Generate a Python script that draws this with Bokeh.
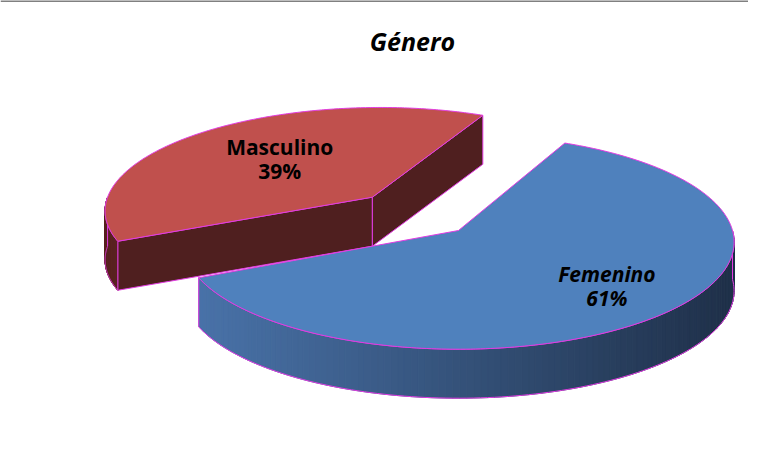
import numpy as np
from bokeh.plotting import figure
from bokeh.models import Range1d, Span
from bokeh.core.properties import value
from bokeh.embed import file_html
from bokeh.resources import INLINE

# ---------------- data ----------------
title_text = "Género"
categories = ["Femenino", "Masculino"]
values = [61, 39]

# ---------------- style ----------------
top_colors = ["#4F81BD", "#C0504D"]
side_left = ["#4A74AB", "#5A2422"]
side_right = ["#1F3049", "#3E1717"]
face_colors = ["#1F2F45", "#4F1F1F"]
explode = [0.0, 0.46]
label_r = [0.71, 0.55]
label_styles = ["bold italic", "bold"]
FIRST_ANGLE = 64.8          # math degrees where the first slice begins (clockwise order)
EDGE = "#E23CE2"

W, H = 748, 443
CX, CY = 458.0, 230.0
A, B = 274.0, 106.0
K = 0.107
DEPTH = 49.0


def P(X, Y, d):
    X = np.asarray(X, float)
    Y = np.asarray(Y, float)
    s = 1.0 / (1.0 + K * Y)
    return CX + A * X * s, CY - B * Y * s + DEPTH * d


def hexrgb(h):
    h = h.lstrip("#")
    return np.array([int(h[i:i + 2], 16) for i in (0, 2, 4)], float)


def mix(c1, c2, t):
    c = hexrgb(c1) * (1 - t) + hexrgb(c2) * t
    return "#%02x%02x%02x" % tuple(int(round(v)) for v in c)


p = figure(width=W, height=H, output_backend="svg", toolbar_location=None,
           x_range=Range1d(0, W), y_range=Range1d(H, 0), min_border=0)
p.axis.visible = False
p.grid.visible = False
p.outline_line_color = None
p.background_fill_color = "white"
p.border_fill_color = "white"

p.add_layout(Span(location=0.5, dimension="width", line_color="#808080", line_width=2))

# slice angle intervals (clockwise from FIRST_ANGLE)
total = float(sum(values))
slices = []
start = FIRST_ANGLE
for i, v in enumerate(values):
    span = 360.0 * v / total
    hi = start
    lo = start - span
    mid = np.radians((lo + hi) / 2)
    ox, oy = explode[i] * np.cos(mid), explode[i] * np.sin(mid)
    slices.append(dict(i=i, lo=lo, hi=hi, ox=ox, oy=oy, mid=mid))
    start = lo

cam = np.array([0.0, -1.0 / K])

# draw back to front
order = sorted(slices, key=lambda s: -s["oy"])
for sl in order:
    i, lo, hi, ox, oy = sl["i"], sl["lo"], sl["hi"], sl["ox"], sl["oy"]

    # radial cut faces
    for ang, sign in ((hi, 1), (lo, -1)):
        a = np.radians(ang)
        n = np.array([-np.sin(a), np.cos(a)]) * sign
        mpt = np.array([ox + 0.5 * np.cos(a), oy + 0.5 * np.sin(a)])
        if np.dot(n, cam - mpt) > 0:
            Xs = [ox, ox + np.cos(a), ox + np.cos(a), ox]
            Ys = [oy, oy + np.sin(a), oy + np.sin(a), oy]
            ds = [0, 0, 1, 1]
            xs, ys = P(Xs, Ys, np.array(ds, float))
            p.patch(list(xs), list(ys), fill_color=face_colors[i], line_color=EDGE, line_width=1)

    # outer side (front half)
    for k in range(-2, 3):
        a0 = max(lo, -180 + 360 * k)
        a1 = min(hi, 0 + 360 * k)
        if a1 <= a0:
            continue
        th = np.radians(np.linspace(a0, a1, 120))
        X = ox + np.cos(th)
        Y = oy + np.sin(th)
        xt, yt = P(X, Y, 0.0)
        xb, yb = P(X, Y, 1.0)
        sx, sy, sc = [], [], []
        for j in range(len(th) - 1):
            sx.append([xt[j], xt[j + 1], xb[j + 1], xb[j]])
            sy.append([yt[j], yt[j + 1], yb[j + 1], yb[j]])
            t = np.clip(((xt[j] + xt[j + 1]) / 2 - (CX - A)) / (2 * A), 0, 1)
            sc.append(mix(side_left[i], side_right[i], t))
        p.patches(sx, sy, fill_color=sc, line_color=sc, line_width=1)
        ox_all = list(xt) + list(xb[::-1])
        oy_all = list(yt) + list(yb[::-1])
        p.patch(ox_all, oy_all, fill_alpha=0, line_color=EDGE, line_width=1)

    # top face
    th = np.radians(np.linspace(lo, hi, 240))
    X = np.concatenate([[ox], ox + np.cos(th)])
    Y = np.concatenate([[oy], oy + np.sin(th)])
    xs, ys = P(X, Y, 0.0)
    p.patch(list(xs), list(ys), fill_color=top_colors[i], line_color=EDGE, line_width=1)

# labels
for sl in slices:
    i = sl["i"]
    r = label_r[i]
    lx, ly = P([sl["ox"] + r * np.cos(sl["mid"])], [sl["oy"] + r * np.sin(sl["mid"])], 0.0)
    pct = "%d%%" % round(100.0 * values[i] / total)
    p.text(x=[lx[0] + 3, lx[0] + 3], y=[ly[0] - 13, ly[0] + 11], text=[categories[i], pct],
           text_font=value("Open Sans"), text_font_style=label_styles[i],
           text_font_size="21px", text_align="center", text_baseline="alphabetic",
           text_color="black")

p.text(x=[W / 2 + 38], y=[40], text=[title_text], text_font=value("Open Sans"),
       text_font_style="bold italic", text_font_size="25px", text_align="center",
       text_baseline="alphabetic", text_color="black")

open("out.html", "w").write(file_html(p, INLINE))
